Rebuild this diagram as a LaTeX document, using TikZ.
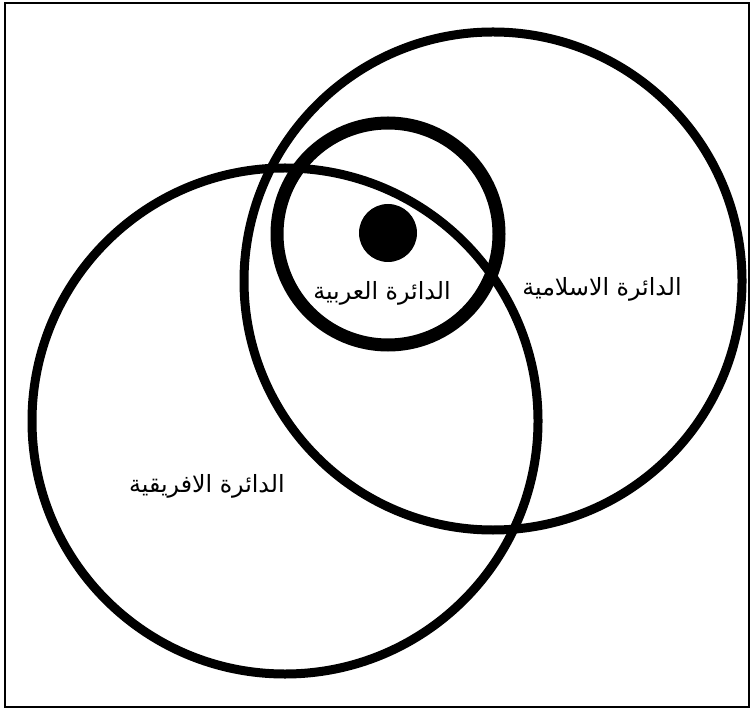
\documentclass[tikz,border=0pt]{standalone}
\usepackage{fontspec}
\newfontfamily\arabicfont[Script=Arabic]{DejaVu Sans}
\TeXXeTstate=1
\usepackage{tikz}
\usetikzlibrary{positioning}

\tikzset{
  ring/.style={black, line width=0.18cm},
  thickring/.style={black, line width=0.26cm},
  circlelabel/.style={font=\arabicfont\fontsize{13.5}{16}\selectfont, inner sep=0pt}
}

\begin{document}
\begin{tikzpicture}
				\useasboundingbox (0,0) rectangle (15.02,14.2);
				\draw[black, line width=0.05cm] (0.10,0.06) rectangle (14.98,14.14);
				% the three circles
				\draw[ring] (9.86,8.58) circle (4.98cm);
				\draw[ring] (5.70,5.78) circle (5.06cm);
				\draw[thickring] (7.76,9.52) circle (2.22cm);
				\fill[black] (7.76,9.54) circle (0.58cm);
				% labels
				\node[circlelabel] (arab) at (7.64,8.34) {\beginR الدائرة العربية\endR};
				\node[circlelabel] (islam) at (12.04,8.42) {\beginR الدائرة الاسلامية\endR};
				\node[circlelabel] (africa) at (4.14,4.48) {\beginR الدائرة الافريقية\endR};
			\end{tikzpicture}
\end{document}
